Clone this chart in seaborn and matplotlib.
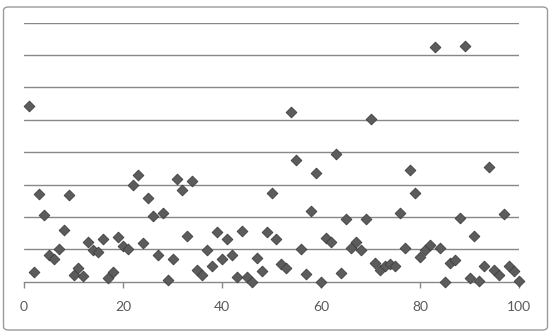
import matplotlib
matplotlib.use("Agg")
import matplotlib.pyplot as plt
import seaborn as sns
import pandas as pd
from matplotlib.patches import FancyBboxPatch

# Data
x_values = list(range(1, 101))
y_values = [
    5.44, 0.29, 2.70, 2.06, 0.82, 0.70, 1.02, 1.60, 2.67, 0.20,
    0.41, 0.19, 1.22, 0.98, 0.92, 1.32, 0.12, 0.31, 1.38, 1.10,
    1.01, 3.00, 3.29, 1.19, 2.60, 2.04, 0.82, 2.11, 0.05, 0.70,
    3.17, 2.82, 1.40, 3.11, 0.37, 0.20, 0.98, 0.49, 1.52, 0.69,
    1.31, 0.82, 0.15, 1.57, 0.15, 0.00, 0.74, 0.34, 1.54, 2.73,
    1.32, 0.55, 0.41, 5.23, 3.76, 1.00, 0.23, 2.18, 3.36, 0.00,
    1.36, 1.22, 3.94, 0.28, 1.93, 1.03, 1.23, 0.98, 1.93, 5.02,
    0.57, 0.36, 0.48, 0.54, 0.48, 2.11, 1.04, 3.45, 2.75, 0.77,
    0.98, 1.13, 7.25, 1.04, 0.00, 0.57, 0.67, 1.98, 7.28, 0.10,
    1.41, 0.02, 0.48, 3.53, 0.36, 0.20, 2.08, 0.48, 0.33, 0.02,
]
x_ticks = [0, 20, 40, 60, 80, 100]
y_grid = [0, 1, 2, 3, 4, 5, 6, 7, 8]

df = pd.DataFrame({"x": x_values, "y": y_values})

sns.set_style("white")
plt.rcParams["font.family"] = ["Lato", "DejaVu Sans"]

fig = plt.figure(figsize=(5.53, 3.32), dpi=100)
fig.patches.append(FancyBboxPatch((3.5 / 553, 2 / 332), 544 / 553, 323 / 332,
                                  boxstyle="round,pad=0,rounding_size=0.01",
                                  transform=fig.transFigure, facecolor="none",
                                  edgecolor="#9a9a9a", linewidth=1.0))
ax = fig.add_axes([24 / 553, 50.3 / 332, 495 / 553, 259 / 332])

sns.scatterplot(data=df, x="x", y="y", marker="D", s=30, color="#5c5c5c",
                edgecolor="#3f3f3f", linewidth=0.6, ax=ax, zorder=3,
                clip_on=False)

ax.set_xlim(0, 100)
ax.set_ylim(0, 8)
ax.set_xticks(x_ticks)
ax.set_yticks(y_grid)
ax.set_yticklabels([])
ax.grid(False)
for v in y_grid[1:]:
    ax.axhline(v, color="#888888", linewidth=1.0, zorder=1)
for side in ["top", "right", "left"]:
    ax.spines[side].set_visible(False)
ax.spines["bottom"].set_color("#888888")
ax.spines["bottom"].set_linewidth(1.0)
ax.tick_params(axis="x", direction="out", length=4, width=1, color="#888888",
               labelsize=10, labelcolor="#595959", pad=10, bottom=True)
ax.tick_params(axis="y", length=0, left=False)
ax.set_xlabel("")
ax.set_ylabel("")

fig.savefig("out.png", dpi=100)
